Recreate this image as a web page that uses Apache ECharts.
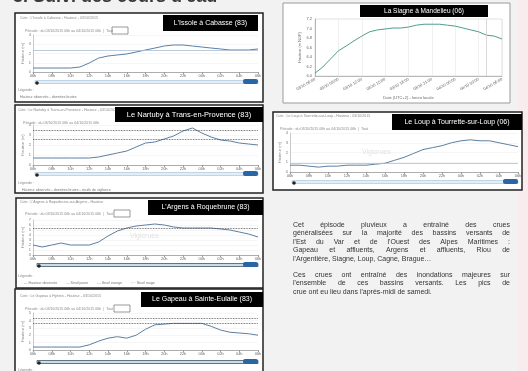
<!DOCTYPE html>
<html>
<head>
<meta charset="utf-8">
<script src="https://cdn.jsdelivr.net/npm/echarts@6/dist/echarts.min.js"></script>
<style>
html, body { margin: 0; padding: 0; background: #f2f2f2; }
#main { width: 528px; height: 371px; }
</style>
</head>
<body>
<div id="main"></div>
<script>
// pas horaire commun aux graphes Vigicrues
const heures = ['06h','07h','08h','09h','10h','11h','12h','13h','14h','15h','16h','17h','18h','19h','20h','21h','22h','23h','00h','01h','02h','03h','04h','05h','06h'];
const datesSiagne = ['03/10 06:00','03/10 07:00','03/10 08:00','03/10 09:00','03/10 10:00','03/10 11:00','03/10 12:00','03/10 13:00','03/10 14:00','03/10 15:00','03/10 16:00','03/10 17:00','03/10 18:00','03/10 19:00','03/10 20:00','03/10 21:00','03/10 22:00','03/10 23:00','04/10 00:00','04/10 01:00','04/10 02:00','04/10 03:00','04/10 04:00','04/10 05:00','04/10 06:00'];

// hauteurs (m)
const issole  = [0.43,0.43,0.43,0.43,0.43,0.54,0.97,1.51,1.73,1.84,1.95,2.16,2.38,2.59,2.81,2.92,2.92,2.81,2.70,2.59,2.49,2.38,2.38,2.38,2.49];
const siagne  = [6.06,6.19,6.36,6.53,6.63,6.74,6.84,6.93,6.97,6.99,7.01,7.01,7.03,7.07,7.09,7.09,7.09,7.07,7.05,7.01,6.97,6.93,6.86,6.84,6.78];
const nartuby = [0.7,0.7,0.7,0.7,0.7,0.7,0.7,0.8,1.0,1.2,1.4,1.8,2.2,2.3,2.6,2.9,3.4,3.7,3.2,2.8,2.5,2.4,2.2,2.1,2.0];
const loup    = [0.7,0.7,0.6,0.5,0.6,0.6,0.7,0.7,0.7,0.8,0.9,1.2,1.5,1.9,2.3,2.5,2.7,3.0,3.2,3.3,3.2,3.2,3.0,2.8,2.6];
const argens  = [2.0,1.6,2.0,2.4,2.0,2.0,2.0,2.6,3.8,4.8,5.4,5.8,6.0,6.2,6.0,5.6,5.4,5.4,5.4,5.4,5.2,5.0,4.6,4.2,3.6];
const gapeau  = [0.4,0.4,0.4,0.4,0.4,0.4,0.7,1.2,1.6,1.8,1.6,2.0,2.8,3.4,3.5,3.6,3.6,3.6,3.6,3.2,2.7,2.4,2.3,2.2,2.0];

// seuils
const seuilsIssole  = [2.4];
const seuilsNartuby = [3.5, 2.6];
const seuilsLoup    = [0.9];
const seuilsArgens  = [5.4];
const seuilsGapeau  = [4.3, 3.6];

const paragraphe1 = [
    "Cet épisode pluvieux a entraîné des crues",
    "généralisées sur la majorité des bassins versants de",
    "l'Est du Var et de l'Ouest des Alpes Maritimes :",
    "Gapeau et affluents, Argens et affluents, Riou de",
    "l'Argentière, Siagne, Loup, Cagne, Brague…"
];
const paragraphe2 = [
    "Ces crues ont entraîné des inondations majeures sur",
    "l'ensemble de ces bassins versants. Les pics de",
    "crue ont eu lieu dans l'après-midi de samedi."
];

const chart = echarts.init(document.getElementById('main'));
const police = '"Liberation Sans", Arial, sans-serif';

function vigiX(i) {
    return {
        type: 'category', gridIndex: i, data: heures, boundaryGap: false,
        axisLine: { lineStyle: { color: '#9a9a9a', width: 0.8 } },
        axisTick: { interval: 1, length: 2, lineStyle: { color: '#9a9a9a' } },
        axisLabel: { interval: 1, fontSize: 4, color: '#666', margin: 2 },
        splitLine: { show: false }
    };
}
function vigiY(i, max, interval) {
    return {
        type: 'value', gridIndex: i, min: 0, max: max, interval: interval,
        name: 'Hauteur (m)', nameLocation: 'middle', nameGap: 7,
        nameTextStyle: { fontSize: 4, color: '#888' },
        axisLine: { show: true, lineStyle: { color: '#bbb', width: 0.8 } },
        axisLabel: { fontSize: 4, color: '#777', margin: 2 },
        splitLine: { lineStyle: { color: '#f0f0f0', width: 0.6 } }
    };
}
function vigiSerie(i, data, seuils, couleurSeuil, typeSeuil) {
    return {
        type: 'line', xAxisIndex: i, yAxisIndex: i, data: data,
        symbol: 'none', silent: true, animation: false,
        lineStyle: { color: '#5d7fa3', width: 1 },
        markLine: {
            silent: true, symbol: 'none', label: { show: false }, animation: false,
            lineStyle: { color: couleurSeuil, type: typeSeuil, width: 0.8 },
            data: seuils.map(v => ({ yAxis: v }))
        }
    };
}

// cadres, titres, navigateurs
const g = [];
function cadre(x, y, w, h, trait, ep) {
    g.push({ type: 'rect', z: -10, shape: { x: x, y: y, width: w, height: h },
        style: { fill: '#fff', stroke: trait, lineWidth: ep } });
}
function bandeau(x, y, w, h, texte, taille) {
    g.push({ type: 'rect', z: 10, shape: { x: x, y: y, width: w, height: h }, style: { fill: '#000' } });
    g.push({ type: 'text', z: 11, x: x + w / 2, y: y + h / 2,
        style: { text: texte, font: taille + 'px ' + police, fill: '#fff',
            align: 'center', verticalAlign: 'middle', textAlign: 'center', textVerticalAlign: 'middle' } });
}
function petit(x, y, texte, couleur) {
    g.push({ type: 'text', z: 5, x: x, y: y,
        style: { text: texte, font: '3.6px ' + police, fill: couleur || '#888',
            verticalAlign: 'middle', textVerticalAlign: 'middle' } });
}
function navigateur(x0, x1, y, sombre) {
    g.push({ type: 'rect', z: 5, shape: { x: x0, y: y - 1.5, width: x1 - x0, height: 3 },
        style: { fill: sombre ? '#c9dcea' : '#e1eef7', stroke: sombre ? '#2b3f55' : '#a9c8df', lineWidth: 0.7 } });
    g.push({ type: 'circle', z: 6, shape: { cx: x0 + 2, cy: y + 1, r: 1.8 }, style: { fill: '#222' } });
    g.push({ type: 'rect', z: 6, shape: { x: x1 - 15, y: y - 3, width: 15, height: 5, r: 2 }, style: { fill: '#2a65a6' } });
}
function filigrane(x, y) {
    g.push({ type: 'text', z: 1, x: x, y: y,
        style: { text: 'Vigicrues', font: '7px ' + police, fill: '#e2e2e2', verticalAlign: 'middle', textVerticalAlign: 'middle' } });
}

g.push({ type: 'rect', z: -20, shape: { x: 518, y: 0, width: 10, height: 371 }, style: { fill: '#f8ecee' } });
g.push({ type: 'text', z: 5, x: 13, y: 6.5,
    style: { text: "3. Suivi des cours d'eau", font: 'bold 18px ' + police, fill: '#3a3a3a',
        verticalAlign: 'bottom', textVerticalAlign: 'bottom' } });

// 1 - Issole
cadre(15, 13, 248, 89, '#222', 1.5);
bandeau(163, 15, 95, 16, "L'Issole à Cabasse (83)", 7);
petit(20, 18, 'Cote : L\'Issole à Cabasse - Hauteur - 03/10/2015');
petit(25, 31, 'Période : du 03/10/2015 06h au 04/10/2015 06h  |  Tout');
g.push({ type: 'rect', z: 5, shape: { x: 112, y: 27, width: 16, height: 7 }, style: { fill: 'none', stroke: '#555', lineWidth: 0.6 } });
navigateur(35, 258, 82, false);
petit(18, 90, 'Légende :');
petit(20, 97, 'Hauteur observée - données brutes', '#777');

// 2 - Siagne
cadre(283, 3, 227, 100, '#9a9a9a', 1);
bandeau(360, 5, 128, 12, 'La Siagne à Mandelieu (06)', 6.5);

// 3 - Nartuby
cadre(15, 105, 248, 88, '#222', 1.5);
bandeau(115, 107, 148, 15, 'Le Nartuby à Trans-en-Provence (83)', 7.5);
petit(18, 110, 'Cote : Le Nartuby à Trans-en-Provence - Hauteur - 03/10/2015');
petit(23, 123, 'Période : du 03/10/2015 06h au 04/10/2015 06h');
navigateur(35, 258, 174, false);
petit(18, 183, 'Légende :');
petit(22, 190, 'Hauteur observée - données brutes - seuils de vigilance', '#777');

// 4 - Loup
cadre(273, 112, 249, 78, '#222', 1.5);
bandeau(392, 114, 130, 16, 'Le Loup à Tourrette-sur-Loup (06)', 7);
petit(276, 116, 'Cote : Le Loup à Tourrette-sur-Loup - Hauteur - 03/10/2015');
petit(280, 129, 'Période : du 03/10/2015 06h au 04/10/2015 06h  |  Tout');
filigrane(362, 152);
navigateur(292, 518, 182, false);

// 5 - Argens
cadre(16, 198, 247, 90, '#222', 1.5);
bandeau(148, 200, 115, 15, "L'Argens à Roquebrune (83)", 7);
petit(20, 202, 'Cote : L\'Argens à Roquebrune-sur-Argens - Hauteur');
petit(25, 214, 'Période : du 03/10/2015 06h au 04/10/2015 06h  |  Tout');
g.push({ type: 'rect', z: 5, shape: { x: 114, y: 210, width: 16, height: 7 }, style: { fill: 'none', stroke: '#555', lineWidth: 0.6 } });
filigrane(130, 236);
navigateur(37, 258, 265, true);
petit(18, 276, 'Légende :');
petit(24, 283, '— Hauteur observée         - - Seuil jaune         - - Seuil orange         ···· Seuil rouge', '#777');

// 6 - Gapeau
cadre(15, 289, 248, 92, '#222', 1.5);
bandeau(141, 292, 122, 15, 'Le Gapeau à Sainte-Eulalie (83)', 7);
petit(20, 296, 'Cote : Le Gapeau à Hyères - Hauteur - 03/10/2015');
petit(25, 309, 'Période : du 03/10/2015 06h au 04/10/2015 06h  |  Tout');
g.push({ type: 'rect', z: 5, shape: { x: 114, y: 305, width: 16, height: 7 }, style: { fill: 'none', stroke: '#555', lineWidth: 0.6 } });
navigateur(37, 258, 362, true);
petit(18, 370, 'Légende :');

// texte justifié
const ctx = document.createElement('canvas').getContext('2d');
const policeTexte = '7px ' + police;
ctx.font = policeTexte;
function ligne(texte, x0, x1, y, justifier) {
    const mots = texte.split(' ');
    const larg = mots.map(m => ctx.measureText(m).width);
    const total = larg.reduce((a, b) => a + b, 0);
    const esp = justifier && mots.length > 1 ? (x1 - x0 - total) / (mots.length - 1) : ctx.measureText(' ').width;
    let x = x0;
    mots.forEach((m, k) => {
        g.push({ type: 'text', z: 5, x: x, y: y,
            style: { text: m, font: policeTexte, fill: '#333', verticalAlign: 'middle', textVerticalAlign: 'middle' } });
        x += larg[k] + esp;
    });
}
paragraphe1.forEach((t, k) => ligne(t, 293, 510, 225 + k * 8.4, k < paragraphe1.length - 1));
paragraphe2.forEach((t, k) => ligne(t, 293, 510, 275 + k * 8.4, k < paragraphe2.length - 1));

chart.setOption({
    animation: false,
    grid: [
        { left: 33, top: 35, width: 225, height: 37 },
        { left: 315, top: 19, width: 187, height: 57, show: true, borderColor: '#cccccc', borderWidth: 0.6 },
        { left: 33, top: 125, width: 225, height: 40 },
        { left: 290, top: 133, width: 228, height: 39 },
        { left: 33, top: 220, width: 225, height: 35 },
        { left: 33, top: 313, width: 225, height: 37 }
    ],
    xAxis: [
        vigiX(0),
        {
            type: 'category', gridIndex: 1, data: datesSiagne, boundaryGap: false,
            name: 'Date (UTC+2) - heure locale', nameLocation: 'middle', nameGap: 20,
            nameTextStyle: { fontSize: 4, color: '#666' },
            axisLine: { lineStyle: { color: '#aaa', width: 0.8 } },
            axisTick: { show: false },
            axisLabel: { interval: 2, rotate: 30, fontSize: 4, color: '#666', margin: 3 },
            splitLine: { show: true, interval: 2, lineStyle: { color: '#e6e6e6', width: 0.6 } }
        },
        vigiX(2), vigiX(3), vigiX(4), vigiX(5)
    ],
    yAxis: [
        vigiY(0, 4, 1),
        {
            type: 'value', gridIndex: 1, min: 6.0, max: 7.2, interval: 0.2,
            name: 'Hauteur (m NGF)', nameLocation: 'middle', nameGap: 13,
            nameTextStyle: { fontSize: 4, color: '#666' },
            axisLine: { show: true, lineStyle: { color: '#aaa', width: 0.8 } },
            axisTick: { show: false },
            axisLabel: { fontSize: 4, color: '#666', margin: 3, formatter: v => v.toFixed(1) },
            splitLine: { show: false }
        },
        vigiY(2, 4, 1), vigiY(3, 4, 1), vigiY(4, 7, 1), vigiY(5, 5, 1)
    ],
    series: [
        vigiSerie(0, issole, seuilsIssole, '#a9bfd6', 'solid'),
        {
            type: 'line', xAxisIndex: 1, yAxisIndex: 1, data: siagne,
            symbol: 'none', silent: true,
            lineStyle: { color: '#4d9e8e', width: 1 },
            markLine: { silent: true, symbol: 'none', label: { show: false },
                lineStyle: { color: '#cfcfcf', type: 'solid', width: 0.8 },
                data: [{ xAxis: 22 }] }
        },
        vigiSerie(2, nartuby, seuilsNartuby, '#444', 'dotted'),
        vigiSerie(3, loup, seuilsLoup, '#9cc7e6', 'solid'),
        vigiSerie(4, argens, seuilsArgens, '#444', 'dotted'),
        vigiSerie(5, gapeau, seuilsGapeau, '#444', 'dotted')
    ],
    graphic: g
});
</script>
</body>
</html>
